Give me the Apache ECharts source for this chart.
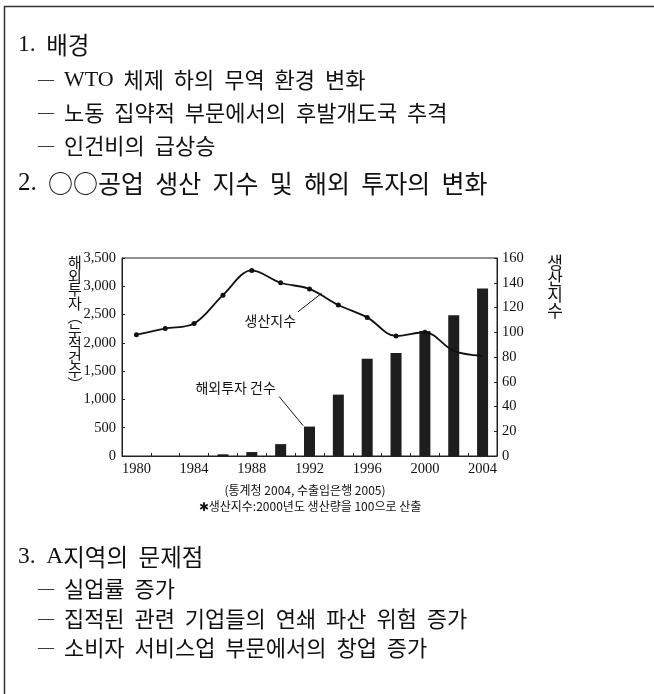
<!DOCTYPE html>
<html><head><meta charset="utf-8">
<script src="https://cdn.jsdelivr.net/npm/echarts@6/dist/echarts.min.js"></script>
<style>html,body{margin:0;padding:0;background:#fff;}#c{width:654px;height:694px;}</style>
</head><body><div id="c"></div>
<script>
const years = ['1980','1982','1984','1986','1988','1990','1992','1994','1996','1998','2000','2002','2004'];
const investCounts = [0, 0, 0, 30, 70, 210, 520, 1085, 1720, 1820, 2210, 2490, 2960];
const productionIndex = [98, 103, 107, 130, 150, 140, 135, 122, 112, 97, 100, 85, 81];
const leftAxisName = ['해','외','투','자','︵','누','적','건','수','︶'];
const rightAxisName = ['생','산','지','수'];
const section1 = ['1. 배경', '— WTO 체제 하의 무역 환경 변화', '— 노동 집약적 부문에서의 후발개도국 추격', '— 인건비의 급상승'];
const section2Title = '2. ○○공업 생산 지수 및 해외 투자의 변화';
const section3 = ['3. A지역의 문제점', '— 실업률 증가', '— 집적된 관련 기업들의 연쇄 파산 위험 증가', '— 소비자 서비스업 부문에서의 창업 증가'];
const sourceNote = '(통계청 2004, 수출입은행 2005)';
const footNote = '✱생산지수:2000년도 생산량을 100으로 산출';
const lineLabel = '생산지수';
const barLabel = '해외투자 건수';

const SERIF = '"Liberation Serif",serif';
const SANS = '"Noto Sans CJK KR",sans-serif';

const chart = echarts.init(document.getElementById('c'), null, {renderer:'canvas'});

// split a line into serif (latin/digits), dash, space and Korean rich segments
function toRich(s) {
  let out = '', cur = null, buf = '';
  const kind = ch => ch === '—' ? 'd' : ch === ' ' ? 's' : (/[A-Za-z0-9.,:()]/.test(ch) ? 'n' : 'k');
  const flush = () => { if (buf) out += '{' + cur + '|' + (cur === 's' ? buf.replace(/ /g, '\u2002') : buf) + '}'; buf = ''; };
  for (const ch of s) {
    const k = kind(ch);
    if (k !== cur) flush();
    cur = k; buf += ch;
  }
  flush();
  return out;
}
function richSet(size) {
  return {
    n:{fontFamily:SERIF, fontSize:size, fill:'#111'},
    d:{fontFamily:SERIF, fontSize:16, fill:'#111'},
    s:{fontFamily:SANS, fontSize:size * 0.9, fill:'#111'},
    k:{fontFamily:SANS, fontSize:size, fill:'#111'}
  };
}
const itemRich = richSet(22);
const headRich = richSet(23.5);
const head2Rich = richSet(25);
function line(x, y, s, rich) {
  return {type:'text', x:x, y:y, silent:true,
    style:{text:toRich(s), rich:rich, textVerticalAlign:'middle', fill:'#111'}};
}
const g = [];
g.push({type:'polyline', silent:true, shape:{points:[[4.5,720],[4.5,6.5],[700,6.5]]}, style:{stroke:'#333', lineWidth:1.5, fill:null}});
const s1y = [45, 80, 113, 146];
section1.forEach((s,i)=>{ g.push(line(i===0?18:38, s1y[i], s, i===0?headRich:itemRich)); });
g.push(line(18, 183, section2Title, head2Rich));
const s3y = [557, 589, 619, 648];
section3.forEach((s,i)=>{ g.push(line(i===0?18:38, s3y[i], s, i===0?headRich:itemRich)); });
g.push({type:'text', x:305, y:490, silent:true, style:{text:sourceNote, fontSize:12, fontFamily:SANS, fill:'#111', textAlign:'center', textVerticalAlign:'middle'}});
g.push({type:'text', x:310, y:506, silent:true, style:{text:footNote, fontSize:12, fontFamily:SANS, fill:'#111', textAlign:'center', textVerticalAlign:'middle'}});
g.push({type:'text', x:75, y:256, silent:true, style:{text:leftAxisName.join('\n'), fontSize:15, lineHeight:13.5, fontFamily:SANS, fill:'#111', textAlign:'center', textVerticalAlign:'top'}});
g.push({type:'text', x:555, y:255, silent:true, style:{text:rightAxisName.join('\n'), fontSize:17, lineHeight:16, fontFamily:SANS, fill:'#111', textAlign:'center', textVerticalAlign:'top'}});

const option = {
  animation:false,
  backgroundColor:'#fff',
  grid:{left:122, right:157, top:258, bottom:238, show:true, borderColor:'#222', borderWidth:1},
  xAxis:{type:'category', data:years, boundaryGap:true,
    axisLine:{lineStyle:{color:'#222', width:1}},
    axisTick:{show:true, inside:true, length:3, interval:0, lineStyle:{color:'#222'}},
    axisLabel:{interval:1, fontFamily:SERIF, fontSize:14.5, color:'#111', margin:6}},
  yAxis:[
    {type:'value', min:0, max:3500, interval:500, splitLine:{show:false},
      axisLine:{show:true, lineStyle:{color:'#222'}},
      axisTick:{show:true, inside:true, length:3, lineStyle:{color:'#222'}},
      axisLabel:{fontFamily:SERIF, fontSize:14.5, color:'#111', margin:6, formatter:v=>v.toLocaleString('en-US')}},
    {type:'value', min:0, max:160, interval:20, splitLine:{show:false}, position:'right',
      axisLine:{show:true, lineStyle:{color:'#222'}},
      axisTick:{show:true, inside:true, length:3, lineStyle:{color:'#222'}},
      axisLabel:{fontFamily:SERIF, fontSize:14.5, color:'#111', margin:5}}
  ],
  series:[
    {type:'bar', name:barLabel, data:investCounts, yAxisIndex:0, barWidth:11, z:2,
      itemStyle:{color:'#1e1e1e'}},
    {type:'line', name:lineLabel, yAxisIndex:1, smooth:0.35, z:3,
      data:productionIndex.map((v,i)=> i>=11 ? {value:v, symbol:'none'} : v),
      symbol:'circle', symbolSize:5, lineStyle:{color:'#111', width:1.8}, itemStyle:{color:'#111'}}
  ],
  graphic:g
};
chart.setOption(option);

// annotations anchored in data space (category index, right-axis value)
function px(idx, val) {
  const p0 = chart.convertToPixel({xAxisIndex:0}, 0);
  const p1 = chart.convertToPixel({xAxisIndex:0}, 1);
  return [p0 + (p1 - p0) * idx, chart.convertToPixel({yAxisIndex:1}, val)];
}
const lineLabelPos = px(4.64, 109);
const lineLead = [px(5.6, 116.5), px(6.42, 131.5)];
const barLabelPos = px(3.44, 55);
const barLead = [px(4.95, 48), px(5.78, 24.5)];
const ann = [
  {type:'text', silent:true, x:lineLabelPos[0], y:lineLabelPos[1], z:10, style:{text:lineLabel, fontSize:14, fontFamily:SANS, fill:'#111', textAlign:'center', textVerticalAlign:'middle'}},
  {type:'line', silent:true, z:10, shape:{x1:lineLead[0][0], y1:lineLead[0][1], x2:lineLead[1][0], y2:lineLead[1][1]}, style:{stroke:'#111', lineWidth:1}},
  {type:'text', silent:true, x:barLabelPos[0], y:barLabelPos[1], z:10, style:{text:barLabel, fontSize:14, fontFamily:SANS, fill:'#111', textAlign:'center', textVerticalAlign:'middle'}},
  {type:'line', silent:true, z:10, shape:{x1:barLead[0][0], y1:barLead[0][1], x2:barLead[1][0], y2:barLead[1][1]}, style:{stroke:'#111', lineWidth:1}}
];
chart.setOption({graphic: g.concat(ann)});
</script></body></html>
